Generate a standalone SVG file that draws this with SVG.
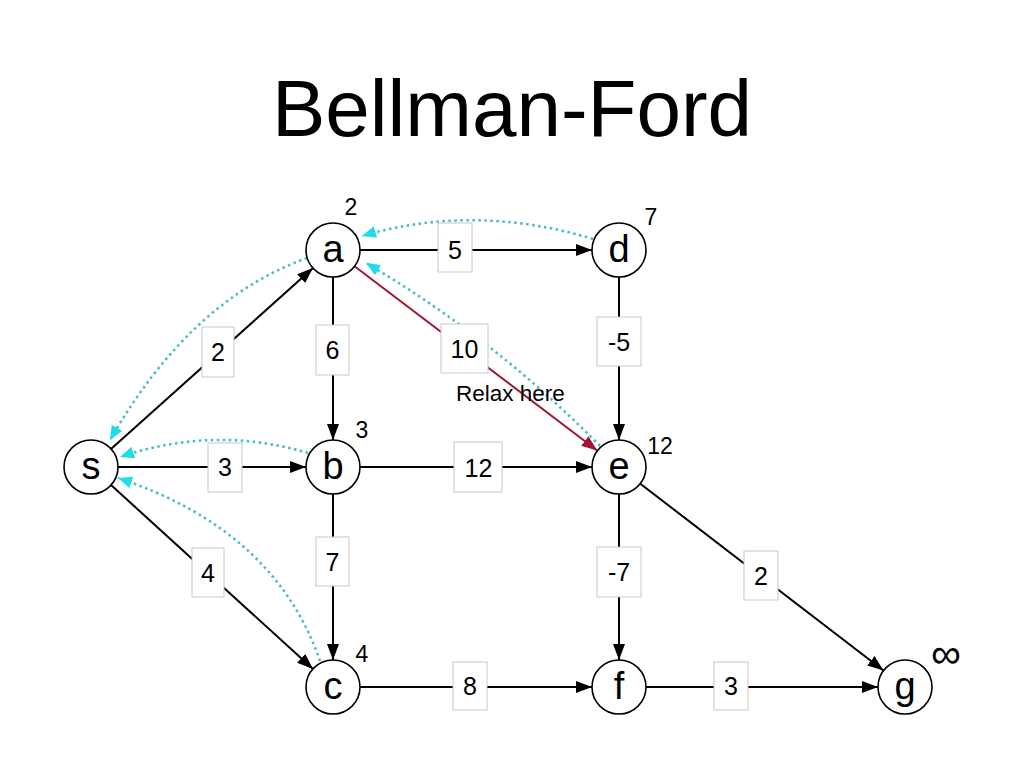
<svg xmlns="http://www.w3.org/2000/svg" width="1024" height="768" viewBox="0 0 1024 768">
<style>
text{font-family:"Liberation Sans",Arial,Helvetica,sans-serif;fill:#000}
.title{font-size:80px;text-anchor:middle}
.node circle{fill:#fff;stroke:#000;stroke-width:1.6}
.node text.nm{font-size:38px;text-anchor:middle}
.node text.dist{font-size:23px;text-anchor:middle}
.node text.inf{font-size:42px;text-anchor:middle}
.edge{stroke:#000;stroke-width:2;fill:none;marker-end:url(#arr)}
.relax{stroke:#a3152f;stroke-width:2;fill:none;marker-end:url(#arrRed)}
.pred{stroke:#4dbcc2;stroke-width:2.6;fill:none;stroke-dasharray:2.5 3.5;marker-end:url(#arrCyan)}
.lbl rect{fill:#fff;stroke:#c8c8c8;stroke-width:1}
.lbl text{font-size:25px;text-anchor:middle}
.note{font-size:22.5px}
</style>
<defs>
<marker id="arr" markerUnits="userSpaceOnUse" markerWidth="16" markerHeight="12" refX="16" refY="6" orient="auto"><path d="M0,0 L16,6 L0,12 z" fill="#000"/></marker>
<marker id="arrRed" markerUnits="userSpaceOnUse" markerWidth="16" markerHeight="12" refX="16" refY="6" orient="auto"><path d="M0,0 L16,6 L0,12 z" fill="#a3152f"/></marker>
<marker id="arrCyan" markerUnits="userSpaceOnUse" markerWidth="14" markerHeight="12" refX="14" refY="6" orient="auto"><path d="M0,0 L14,6 L0,12 z" fill="#1fdce6"/></marker>
</defs>
<rect width="1024" height="768" fill="#fff"/>
<text class="title" x="512" y="136">Bellman-Ford</text>

<g id="connectors">
<line class="edge" x1="111" y1="449" x2="313" y2="268"/>
<line class="edge" x1="360" y1="250" x2="592" y2="250"/>
<line class="edge" x1="333" y1="277" x2="333" y2="440"/>
<line class="edge" x1="619" y1="277" x2="619" y2="440"/>
<line class="edge" x1="118" y1="467" x2="306" y2="467"/>
<line class="edge" x1="360" y1="467" x2="592" y2="467"/>
<line class="edge" x1="111" y1="485" x2="313" y2="669"/>
<line class="edge" x1="333" y1="494" x2="333" y2="660"/>
<line class="edge" x1="619" y1="494" x2="619" y2="660"/>
<line class="edge" x1="360" y1="687" x2="592" y2="687"/>
<line class="edge" x1="640" y1="483.5" x2="883.5" y2="670.5"/>
<line class="edge" x1="646" y1="687" x2="878" y2="687"/>
<line class="relax" x1="354.5" y1="266.3" x2="597.5" y2="450.7"/>
<path class="pred" d="M593,239 Q475,203 362,236"/>
<path class="pred" d="M600,446 Q495,339 366,263"/>
<path class="pred" d="M307,258 Q190,300 110,440"/>
<path class="pred" d="M308,453 Q215,425 120,457"/>
<path class="pred" d="M320,661 Q275,530 118,478"/>
</g>

<g id="edge-labels">
<g class="lbl"><rect x="438" y="223" width="34" height="49"/><text x="455" y="259">5</text></g>
<g class="lbl"><rect x="202" y="327" width="32" height="50"/><text x="218" y="361">2</text></g>
<g class="lbl"><rect x="316" y="325" width="33" height="50"/><text x="332.5" y="359">6</text></g>
<g class="lbl"><rect x="441" y="324" width="47" height="49"/><text x="464.5" y="358">10</text></g>
<g class="lbl"><rect x="597" y="317" width="44" height="49"/><text x="619" y="351">-5</text></g>
<g class="lbl"><rect x="208" y="443" width="34" height="49"/><text x="225" y="476">3</text></g>
<g class="lbl"><rect x="454" y="442" width="48" height="50"/><text x="478.5" y="477">12</text></g>
<g class="lbl"><rect x="192" y="548" width="32" height="49"/><text x="208" y="582">4</text></g>
<g class="lbl"><rect x="316" y="537" width="33" height="49"/><text x="332.5" y="571">7</text></g>
<g class="lbl"><rect x="597" y="547" width="44" height="50"/><text x="619" y="581">-7</text></g>
<g class="lbl"><rect x="744" y="551" width="34" height="49"/><text x="761" y="585">2</text></g>
<g class="lbl"><rect x="453" y="662" width="34" height="48"/><text x="470" y="695">8</text></g>
<g class="lbl"><rect x="714" y="662" width="34" height="48"/><text x="731" y="695">3</text></g>
</g>

<text class="note" x="456" y="401">Relax here</text>

<g id="node-s" class="node"><circle cx="91" cy="467" r="27"/><text class="nm" x="91" y="479">s</text></g>
<g id="node-a" class="node"><circle cx="333" cy="250" r="27"/><text class="nm" x="333" y="262">a</text><text class="dist" x="351" y="215">2</text></g>
<g id="node-d" class="node"><circle cx="619" cy="250" r="27"/><text class="nm" x="619" y="262">d</text><text class="dist" x="651" y="225">7</text></g>
<g id="node-b" class="node"><circle cx="333" cy="467" r="27"/><text class="nm" x="333" y="479">b</text><text class="dist" x="362" y="438">3</text></g>
<g id="node-e" class="node"><circle cx="619" cy="467" r="27"/><text class="nm" x="619" y="479">e</text><text class="dist" x="660" y="454">12</text></g>
<g id="node-c" class="node"><circle cx="333" cy="687" r="27"/><text class="nm" x="333" y="699">c</text><text class="dist" x="362" y="662">4</text></g>
<g id="node-f" class="node"><circle cx="619" cy="687" r="27"/><text class="nm" x="619" y="699">f</text></g>
<g id="node-g" class="node"><circle cx="905" cy="687" r="27"/><text class="nm" x="905" y="699">g</text><text class="inf" x="946" y="668">∞</text></g>
</svg>
